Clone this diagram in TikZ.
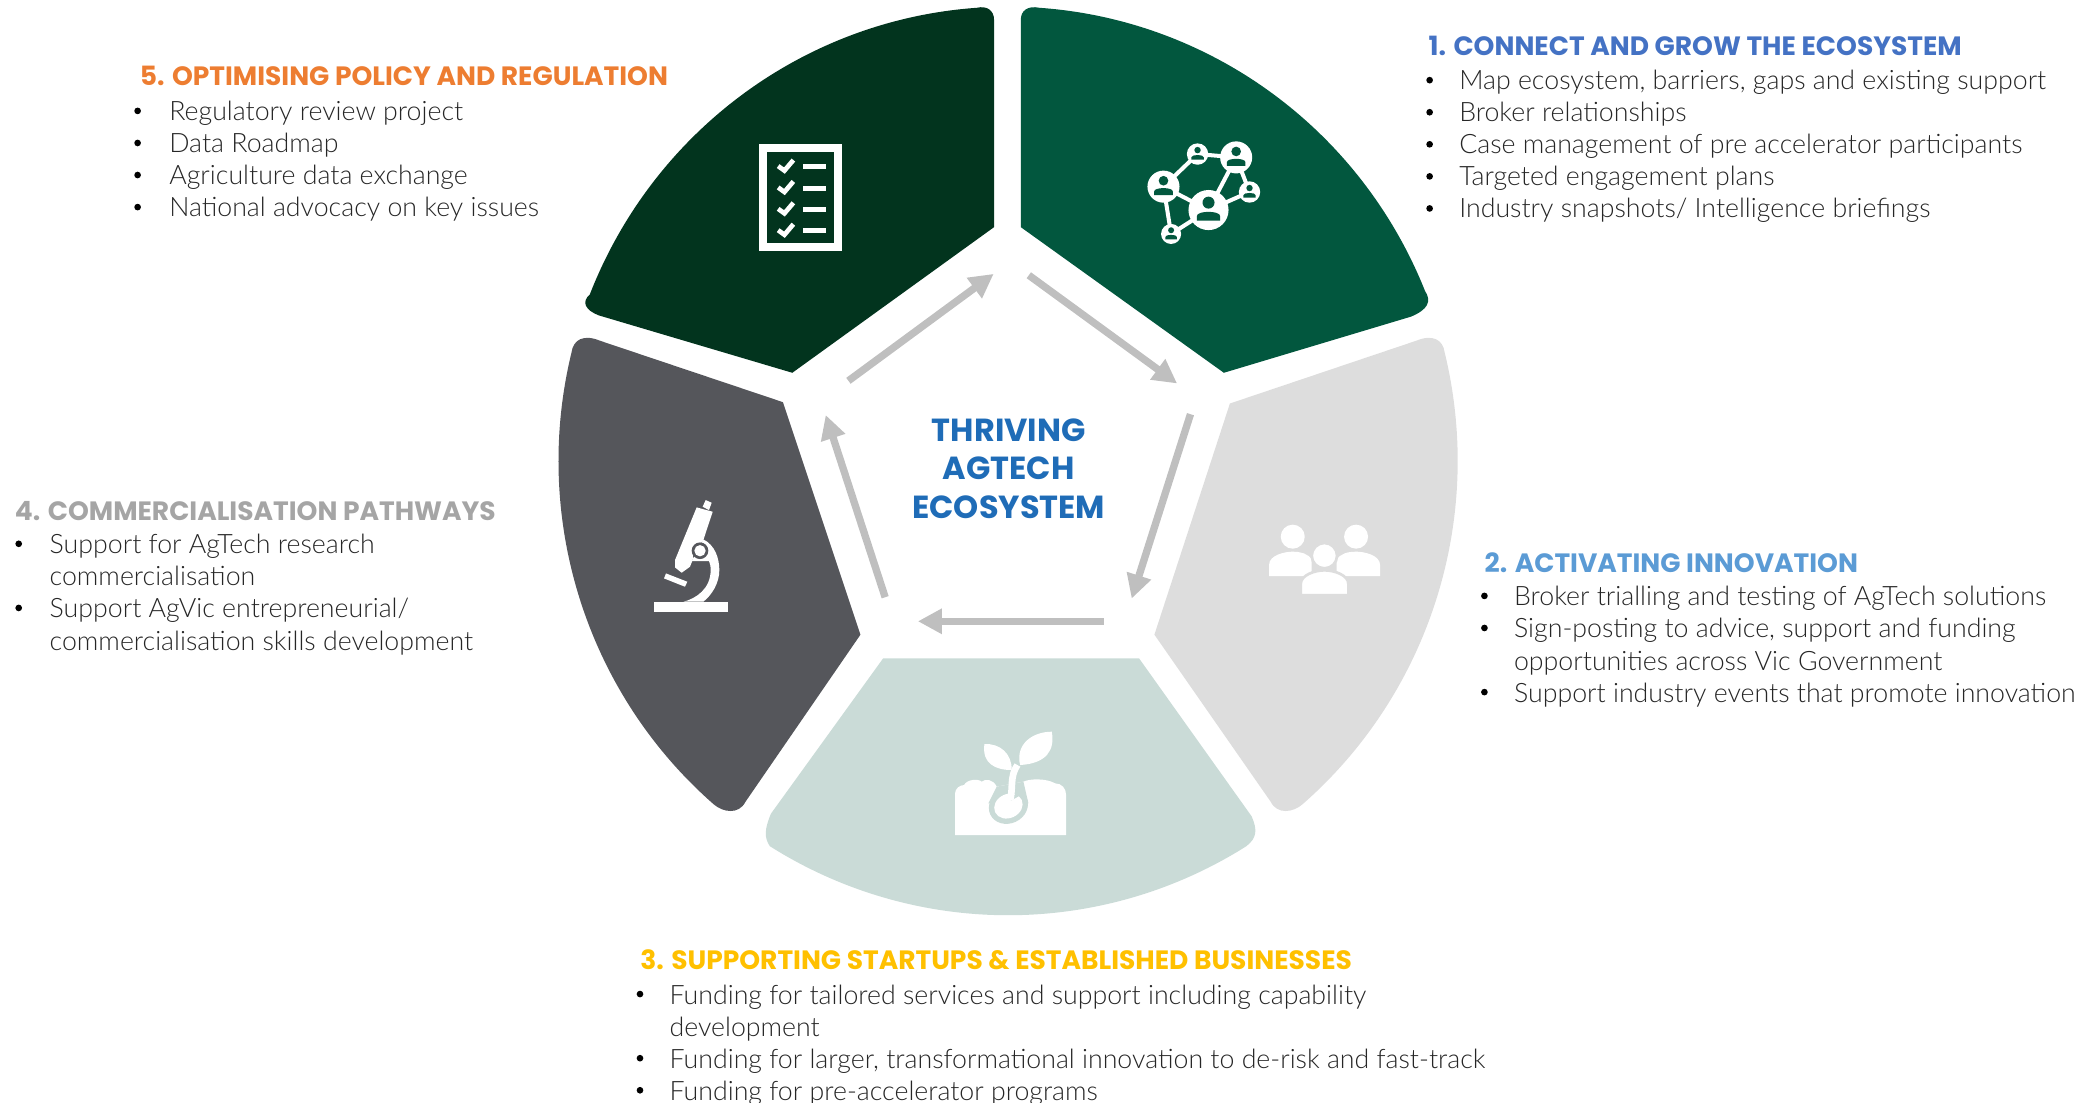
\documentclass[tikz,border=0pt]{standalone}
\usepackage{fontspec}
\usetikzlibrary{arrows.meta}
\setmainfont{Lato Light}
\newfontfamily\headf{Poppins Bold}
\definecolor{segA}{HTML}{02573E}
\definecolor{segB}{HTML}{DDDDDD}
\definecolor{segC}{HTML}{CADBD7}
\definecolor{segD}{HTML}{55565B}
\definecolor{segE}{HTML}{02341E}
\definecolor{arrowgrey}{HTML}{BFBFBF}
\definecolor{titleA}{HTML}{4472C4}
\definecolor{titleB}{HTML}{5B9BD5}
\definecolor{titleC}{HTML}{FFC000}
\definecolor{titleD}{HTML}{A5A5A5}
\definecolor{titleE}{HTML}{ED7D31}
\definecolor{centreblue}{HTML}{1F6CB7}
\definecolor{bodytext}{HTML}{262626}
\tikzset{
  bodyline/.style={inner sep=0pt,anchor=base west,text=bodytext,font=\fontsize{20}{24}\selectfont},
  bulletmark/.style={circle,fill=black,inner sep=0pt,minimum size=5pt},
  headline/.style={inner sep=0pt,anchor=base west,font=\headf\fontsize{19.85}{24}\selectfont},
  centreline/.style={inner sep=0pt,anchor=base,text=centreblue,font=\headf\fontsize{23.9}{28}\selectfont},
  flow/.style={draw=arrowgrey,line width=5.5pt,-{Triangle[length=18pt,width=18pt]}},
  iconline/.style={draw=white,line cap=butt}
}
\newcommand\netperson[4]{\fill[white] (#1,#2) circle[radius=#3];
 \begin{scope}[shift={(#1,#2)},scale=#3]
 \fill[segA] (0,-.37) circle[radius=.3];
 \fill[segA] (-.58,.53) -- (-.58,.3) .. controls (-.58,.02) and (.58,.02) .. (.58,.3) -- (.58,.53) -- cycle;
 \end{scope}}
\newcommand\bul[3]{\node[bulletmark] (#3) at (#1,#2) {};}
\begin{document}
\begin{tikzpicture}[x=1pt,y=-1pt]
\useasboundingbox (0,0) rectangle (1568,824.8);
\coordinate (C) at (754.5,345);
\def\rr{336.5 and 340}
% segments
\fill[segA] (764,15) -- (764,170) -- (916,279) -- (1056,237)
  .. controls (1068,232) and (1072,226) .. ([shift={(C)}]-22:\rr)
  arc[start angle=-22,end angle=-86,x radius=336.5,y radius=340]
  .. controls (769,4) and (764,8) .. cycle;
\fill[segE] (744,15) -- (744,170) -- (593,279) -- (448,236)
  .. controls (438,232) and (435,226) .. ([shift={(C)}]-158.5:\rr)
  arc[start angle=-158.5,end angle=-94,x radius=336.5,y radius=340]
  .. controls (739,4) and (744,8) .. cycle;
\fill[segB] (920.5,302) -- (1060,255) .. controls (1072,250) and (1080,254) .. ([shift={(C)}]-13.8:\rr)
  arc[start angle=-13.8,end angle=49.1,x radius=336.5,y radius=340]
  .. controls (968,608) and (956,610) .. (951,600) -- (864,475) -- cycle;
\fill[segD] (586,301) -- (449,255) .. controls (437,250) and (429,254) .. ([shift={(C)}]193.8:\rr)
  arc[start angle=193.8,end angle=130.9,x radius=336.5,y radius=340]
  .. controls (541,608) and (553,610) .. (558,600) -- (644,475) -- cycle;
\fill[segC] (661,492.7) -- (852.5,492.7) -- (936.8,611) .. controls (941,621) and (941,627) .. ([shift={(C)}]58:\rr)
  arc[start angle=58,end angle=122,x radius=336.5,y radius=340]
  .. controls (572,627) and (572,621) .. (577,609) -- cycle;
% flow arrows
\coordinate (a1s) at (770,206); \coordinate (a1e) at (881,287);
\coordinate (a2s) at (891,310); \coordinate (a2e) at (847,448);
\coordinate (a3s) at (826,465); \coordinate (a3e) at (687,465);
\coordinate (a4s) at (662.5,447); \coordinate (a4e) at (618,310.6);
\coordinate (a5s) at (635,285); \coordinate (a5e) at (743.7,205);
\draw[flow] (a1s) -- (a1e);
\draw[flow] (a2s) -- (a2e);
\draw[flow] (a3s) -- (a3e);
\draw[flow] (a4s) -- (a4e);
\draw[flow] (a5s) -- (a5e);
% centre
\node[centreline] (c1) at (755,330.8) {THRIVING};
\node[centreline] (c2) at (755,359.2) {AGTECH};
\node[centreline] (c3) at (755,387.8) {ECOSYSTEM};
% network icon
\draw[white,line width=3pt] (904.5,157.2) -- (925.2,117.8) -- (896.3,115.3) -- (870.8,139.7) -- (904.5,157.2) -- (876.5,175.1) -- (870.8,139.7);
\draw[white,line width=3pt] (904.5,157.2) -- (935.2,143.7) -- (925.2,117.8);
\netperson{904.5}{157.2}{15}{}
\netperson{925.2}{117.8}{12}{}
\netperson{870.8}{139.7}{12}{}
\netperson{896.3}{115.3}{8}{}
\netperson{935.2}{143.7}{8}{}
\netperson{876.5}{175.1}{7.5}{}
% checklist icon
\draw[white,line width=6pt] (571.4,111.1) rectangle (627.2,184.6);
\foreach \dy in {0,16,32,48}{
  \draw[white,line width=3.5pt] (582.4,124.3+\dy) -- (587.1,127.7+\dy) -- (593.8,119.8+\dy);
  \fill[white] (601.3,123+\dy) rectangle (618.3,126.6+\dy);
}
% microscope icon
\begin{scope}[shift={(479,359.3)},scale=.2495]
  \fill[white] (42,365) rectangle (265,395);
  \fill[white] (78,280) -- (142,305) -- (135,320) -- (72,295) -- cycle;
  \fill[white] (197,60) -- (215,68) -- (207,90) -- (188,80) -- cycle;
  \fill[white] (170,82) -- (218,95) -- (190,180) -- (160,215) -- (158,240) -- (150,260) -- (125,278) -- (105,262) -- (105,240) -- cycle;
  \fill[white] (190,178) .. controls (225,195) and (238,235) .. (238,270) .. controls (238,310) and (215,345) .. (190,365) -- (130,365)
     .. controls (170,355) and (212,325) .. (212,270) .. controls (212,258) and (210,250) .. (207,243) -- (155,243) -- cycle;
  \fill[segD] (180,212) circle[radius=25];
  \fill[white] (180,212) circle[radius=17];
\end{scope}
% people icon
\begin{scope}[shift={(935.6,381.7)},scale=.2495]
  \fill[white] (128,80) circle[radius=36];
  \fill[white] (318,80) circle[radius=36];
  \fill[white] (57,198) -- (57,165) .. controls (57,135) and (105,125) .. (128,125) .. controls (150,125) and (175,130) .. (185,150) -- (185,198) -- cycle;
  \fill[white] (390,198) -- (390,165) .. controls (390,135) and (342,125) .. (318,125) .. controls (295,125) and (270,130) .. (260,150) -- (260,198) -- cycle;
  \filldraw[fill=white,draw=segB,line width=2pt] (223,137) circle[radius=38];
  \filldraw[fill=white,draw=segB,line width=2pt] (152,256) -- (152,222) .. controls (152,195) and (195,181) .. (223,181) .. controls (252,181) and (295,195) .. (295,222) -- (295,256) -- cycle;
\end{scope}
% sprout icon
\begin{scope}[shift={(703.6,538.9)},scale=.2495]
  \fill[white] (45,345) -- (45,220) .. controls (45,205) and (60,195) .. (72,195) .. controls (80,178) and (115,175) .. (125,185) .. controls (135,175) and (160,178) .. (170,200) -- (250,185) .. controls (270,175) and (320,175) .. (345,190) .. controls (365,190) and (378,205) .. (378,225) -- (378,345) -- cycle;
  \fill[segC] (170,200) -- (250,185) -- (265,250) -- (145,250) -- cycle;
  \fill[segC,rotate around={25:(205,258)}] (205,258) ellipse[x radius=60,y radius=52];
  \fill[white,rotate around={25:(205,258)}] (205,258) ellipse[x radius=44,y radius=36];
  \fill[segC] (212,242) -- (228,216) -- (248,222) -- cycle;
  \draw[white,line width=5pt] (210,240) .. controls (220,205) and (208,170) .. (232,135);
  \fill[white] (133,72) .. controls (180,70) and (215,100) .. (215,150) .. controls (165,150) and (125,130) .. (133,72) -- cycle;
  \fill[white] (335,35) .. controls (345,90) and (320,130) .. (240,135) .. controls (225,70) and (280,35) .. (335,35) -- cycle;
\end{scope}
% group 1
\node[headline,text=titleA] (t1) at (1069,41.5) {1. CONNECT AND GROW THE ECOSYSTEM};
\bul{1070}{60}{b11}\node[bodyline] (l11) at (1092,67) {Map ecosystem, barriers, gaps and existing support};
\bul{1070}{84}{b12}\node[bodyline] (l12) at (1092,91) {Broker relationships};
\bul{1070}{108}{b13}\node[bodyline] (l13) at (1092,115) {Case management of pre accelerator participants};
\bul{1070}{132}{b14}\node[bodyline] (l14) at (1092,139) {Targeted engagement plans};
\bul{1070}{156}{b15}\node[bodyline] (l15) at (1092,163) {Industry snapshots/ Intelligence briefings};
% group 2
\node[headline,text=titleB] (t2) at (1111,428.5) {2. ACTIVATING INNOVATION};
\bul{1111}{446}{b21}\node[bodyline] (l21) at (1133,453.5) {Broker trialling and testing of AgTech solutions};
\bul{1111}{470}{b22}\node[bodyline] (l22) at (1133,477.5) {Sign-posting to advice, support and funding};
\node[bodyline] (l22b) at (1133,501.5) {opportunities across Vic Government};
\bul{1111}{518}{b23}\node[bodyline] (l23) at (1133,525.5) {Support industry events that promote innovation};
% group 3
\node[headline,text=titleC] (t3) at (479,725.5) {3. SUPPORTING STARTUPS \& ESTABLISHED BUSINESSES};
\bul{479}{744}{b31}\node[bodyline] (l31) at (501,751.5) {Funding for tailored services and support including capability};
\node[bodyline] (l31b) at (501,775.5) {development};
\bul{479}{792}{b32}\node[bodyline] (l32) at (501,799.5) {Funding for larger, transformational innovation to de-risk and fast-track};
\bul{479}{816}{b33}\node[bodyline] (l33) at (501,823.5) {Funding for pre-accelerator programs};
% group 4
\node[headline,text=titleD] (t4) at (11,389.5) {4. COMMERCIALISATION PATHWAYS};
\bul{14}{407}{b41}\node[bodyline] (l41) at (37,414.5) {Support for AgTech research};
\node[bodyline] (l41b) at (37,438.5) {commercialisation};
\bul{14}{455}{b42}\node[bodyline] (l42) at (37,462.5) {Support AgVic entrepreneurial/};
\node[bodyline] (l42b) at (37,486.5) {commercialisation skills development};
% group 5
\node[headline,text=titleE] (t5) at (104.5,64.3) {5. OPTIMISING POLICY AND REGULATION};
\bul{103}{83}{b51}\node[bodyline] (l51) at (126.5,90) {Regulatory review project};
\bul{103}{107}{b52}\node[bodyline] (l52) at (126.5,114) {Data Roadmap};
\bul{103}{131}{b53}\node[bodyline] (l53) at (126.5,138) {Agriculture data exchange};
\bul{103}{155}{b54}\node[bodyline] (l54) at (126.5,162) {National advocacy on key issues};
\end{tikzpicture}
\end{document}
